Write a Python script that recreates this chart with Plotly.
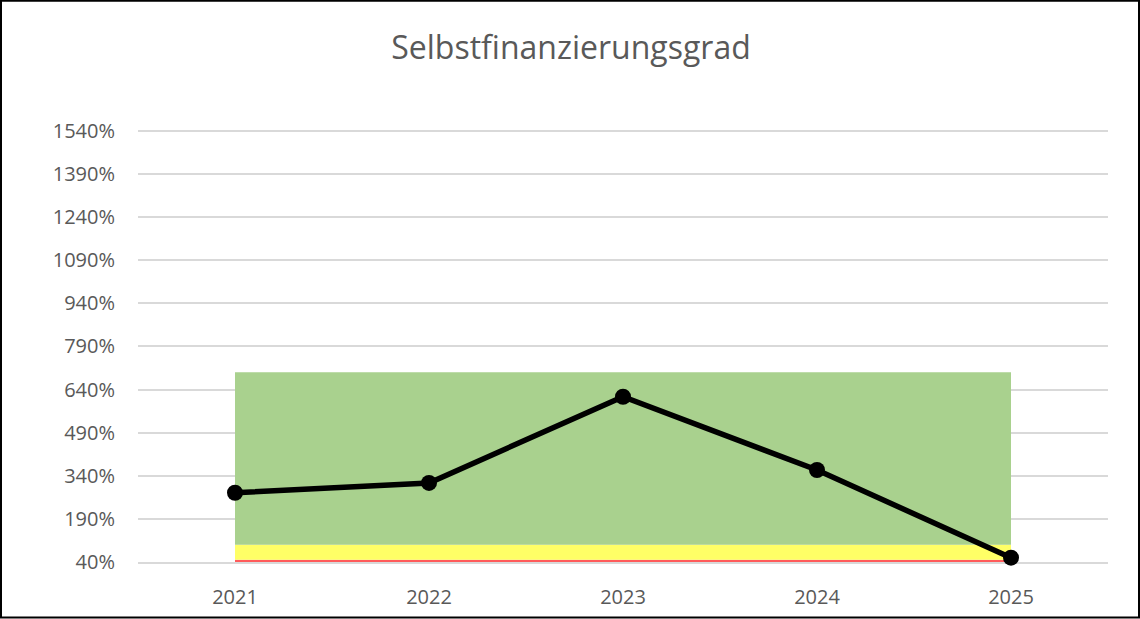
import plotly.graph_objects as go

years = ["2021", "2022", "2023", "2024", "2025"]
values = [281, 315, 615, 360, 55]
band_red = [48, 48, 48, 48, 48]
band_yellow = [52, 52, 52, 52, 52]
band_green = [600, 600, 600, 600, 600]
y_ticks = [40, 190, 340, 490, 640, 790, 940, 1090, 1240, 1390, 1540]

fig = go.Figure()
for name, vals, col in [("Rot", band_red, "#ff5b5b"),
                        ("Gelb", band_yellow, "#ffff66"),
                        ("Grün", band_green, "#a9d18e")]:
    fig.add_trace(go.Scatter(x=years, y=vals, stackgroup="bands", mode="none",
                             fillcolor=col, name=name, hoverinfo="skip"))

fig.add_trace(go.Scatter(x=years, y=values, mode="lines+markers",
                         line=dict(color="black", width=5.5),
                         marker=dict(color="black", size=16),
                         cliponaxis=False, name="Selbstfinanzierungsgrad"))

font = "'Open Sans', Lato, sans-serif"
px_per = 431 / 1500
y_max = 1550
top_margin = 619 - 57 - (y_max - 40) * px_per
fig.update_layout(
    width=1140, height=619, autosize=False,
    margin=dict(l=138, r=32, t=top_margin, b=57, autoexpand=False),
    paper_bgcolor="white", plot_bgcolor="white",
    showlegend=False,
    title=dict(text="Selbstfinanzierungsgrad", x=(571 - 138) / 970, xref="paper", xanchor="center",
               y=1 - 48 / 619, yanchor="middle",
               font=dict(family=font, size=32, color="#595959")),
    font=dict(family=font, size=20, color="#595959"),
    xaxis=dict(type="category", range=[-0.5, 4.5], showgrid=False, showline=True,
               linecolor="#d9d9d9", linewidth=1.5, ticks="", ticklabelstandoff=16,
               automargin=False, layer="below traces",
               tickfont=dict(size=20, color="#595959")),
    yaxis=dict(range=[40, y_max], tickmode="array", tickvals=y_ticks,
               ticktext=[f"{v}%" for v in y_ticks],
               showgrid=True, gridcolor="#d9d9d9", gridwidth=1.5, zeroline=False,
               showline=False, ticks="", ticklabelstandoff=22, automargin=False,
               layer="below traces", tickfont=dict(size=20, color="#595959")),
    shapes=[dict(type="rect", xref="paper", yref="paper",
                 x0=(1 - 138) / 970, x1=(1139 - 138) / 970,
                 y0=-(617.5 - 562) / ((y_max - 40) * px_per),
                 y1=(562 - 1) / ((y_max - 40) * px_per),
                 line=dict(color="black", width=2), fillcolor="rgba(0,0,0,0)",
                 layer="above")],
)

fig.write_html("out.html", config={"displayModeBar": False},
               post_script="document.body.style.margin='0px';")
